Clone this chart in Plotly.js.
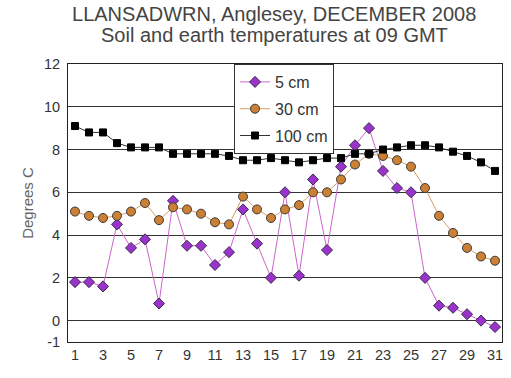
<!DOCTYPE html>
<html>
<head>
<meta charset="utf-8">
<script src="https://cdn.plot.ly/plotly-3.0.1.min.js"></script>
<style>html,body{margin:0;padding:0;background:#fff;}#chart{width:511px;height:378px;}</style>
</head>
<body>
<div id="chart"></div>
<script>
const days = [1,2,3,4,5,6,7,8,9,10,11,12,13,14,15,16,17,18,19,20,21,22,23,24,25,26,27,28,29,30,31];
const cm5 = [1.8,1.8,1.6,4.5,3.4,3.8,0.8,5.6,3.5,3.5,2.6,3.2,5.2,3.6,2.0,6.0,2.1,6.6,3.3,7.2,8.2,9.0,7.0,6.2,6.0,2.0,0.7,0.6,0.3,0.0,-0.3];
const cm30 = [5.1,4.9,4.8,4.9,5.1,5.5,4.7,5.3,5.2,5.0,4.6,4.5,5.8,5.2,4.8,5.2,5.4,6.0,6.0,6.6,7.3,7.8,7.7,7.5,7.2,6.2,4.9,4.1,3.4,3.0,2.8];
const cm100 = [9.1,8.8,8.8,8.3,8.1,8.1,8.1,7.8,7.8,7.8,7.8,7.7,7.5,7.5,7.6,7.5,7.4,7.5,7.6,7.6,7.8,7.8,8.0,8.1,8.2,8.2,8.1,7.9,7.7,7.4,7.0];
const seriesNames = ['5 cm','30 cm','100 cm'];
const titleLines = ['LLANSADWRN, Anglesey, DECEMBER 2008', 'Soil and earth temperatures at 09 GMT'];
const xTicks = [1,3,5,7,9,11,13,15,17,19,21,23,25,27,29,31];
const yTicks = [-1,0,2,4,6,8,10,12];

const traces = [
  {x: days, y: cm5, name: seriesNames[0], legendgroup: 'a', mode: 'lines+markers', type: 'scatter',
   line: {color: '#cc66cc', width: 1},
   marker: {symbol: 'diamond', size: 8.5, color: '#9933cc', line: {color: '#3a2a4a', width: 1}}},
  {x: days, y: cm30, name: seriesNames[1], legendgroup: 'b', mode: 'lines+markers', type: 'scatter',
   line: {color: '#d9a066', width: 1},
   marker: {symbol: 'circle', size: 9, color: '#cc8033', line: {color: '#3a3a3a', width: 1}}},
  {x: days, y: cm100, name: seriesNames[2], legendgroup: 'c', mode: 'lines+markers', type: 'scatter',
   line: {color: '#333333', width: 1},
   marker: {symbol: 'square', size: 7, color: '#000000', line: {color: '#000000', width: 1}}}
];

const layout = {
  width: 511, height: 378,
  margin: {l: 68, r: 9, t: 64, b: 36},
  paper_bgcolor: '#ffffff', plot_bgcolor: '#ffffff',
  font: {family: 'Liberation Sans, Arial, sans-serif', size: 14, color: '#333333'},
  title: {text: titleLines[0],
    x: 0.475, xanchor: 'center', xref: 'paper', yref: 'container', y: 1 - 14/378, yanchor: 'middle',
    font: {family: 'Liberation Sans, Arial, sans-serif', size: 20, color: '#444444'}},
  annotations: [{text: titleLines[1], xref: 'paper', yref: 'paper', x: 0.475, xanchor: 'center',
    y: (378 - 36 - 35.5) / 278, yanchor: 'middle', showarrow: false,
    font: {family: 'Liberation Sans, Arial, sans-serif', size: 20, color: '#444444'}}],
  xaxis: {range: [0.5, 31.5], tickvals: xTicks, ticktext: xTicks.map(String),
    showgrid: false, zeroline: false, showline: true, mirror: true, linecolor: '#222222', linewidth: 1,
    ticks: '', tickfont: {size: 14.5, color: '#333333'}, fixedrange: true},
  yaxis: {range: [-1, 12], tickvals: yTicks, ticktext: yTicks.map(String),
    showgrid: true, gridcolor: '#333333', gridwidth: 1, zeroline: false,
    showline: true, mirror: true, linecolor: '#222222', linewidth: 1,
    ticks: '', ticklen: 0, ticklabelstandoff: 4, tickfont: {size: 14.5, color: '#333333'},
    title: {text: 'Degrees C', font: {size: 15, color: '#666666'}, standoff: 6}},
  legend: {x: (234 - 68) / 434, y: 1, xanchor: 'left', yanchor: 'top',
    bgcolor: '#ffffff', bordercolor: '#333333', borderwidth: 1,
    font: {size: 16, color: '#333333'}, itemwidth: 30, tracegroupgap: 3},
  showlegend: true
};

Plotly.newPlot('chart', traces, layout, {displayModeBar: false, staticPlot: true});
</script>
</body>
</html>
